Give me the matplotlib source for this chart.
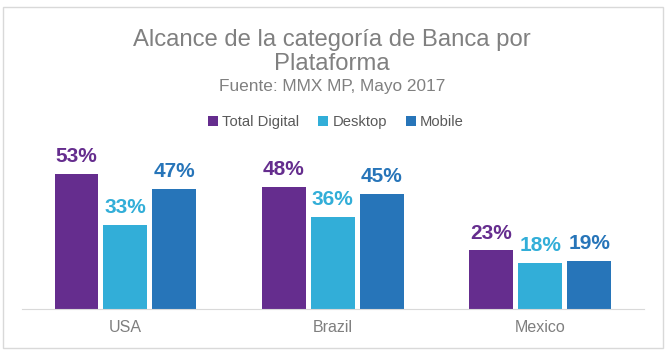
"""Alcance de la categoría de Banca por Plataforma (bar chart)."""

import matplotlib

matplotlib.use("Agg")
import matplotlib.pyplot as plt  # noqa: E402
import numpy as np  # noqa: E402
from matplotlib.patches import Rectangle  # noqa: E402

plt.rcParams["font.family"] = ["Liberation Sans", "DejaVu Sans"]

countries = ["USA", "Brazil", "Mexico"]
series = ["Total Digital", "Desktop", "Mobile"]
total_digital = [53, 48, 23]
desktop = [33, 36, 18]
mobile = [47, 45, 19]
colors = ["#652D8E", "#32AED8", "#2775B9"]

W, H = 668, 354
fig = plt.figure(figsize=(W / 100, H / 100), dpi=100)

# thin gray frame round the chart
fig.patches.append(Rectangle((3 / W, 6 / H), 660 / W, 341 / H, transform=fig.transFigure,
                             fill=False, ec="#D9D9D9", lw=1.0))

# axes placed in pixel terms: baseline at y=309, 60% reaches y=156
left, right = 21.75, 644
base, top = 309, 156
ax = fig.add_axes([left / W, (H - base) / H, (right - left) / W, (base - top) / H])

x = np.arange(len(countries))
bw = 0.212
step = 0.236
for i, (vals, col) in enumerate(zip([total_digital, desktop, mobile], colors)):
    pos = x + (i - 1) * step
    bars = ax.bar(pos, vals, width=bw, color=col, label=series[i], zorder=2)
    for b, v in zip(bars, vals):
        ax.annotate(f"{v}%", (b.get_x() + b.get_width() / 2, v), xytext=(0, 8.5),
                    textcoords="offset points", ha="center", va="baseline",
                    fontsize=15, fontweight="bold", color=col, annotation_clip=False)

ax.set_xlim(-0.5, 2.5)
ax.set_ylim(0, 60)
ax.set_xticks(x)
ax.set_xticklabels(countries, fontsize=11.5, color="#7F7F7F")
ax.tick_params(axis="x", length=0, pad=8)
ax.set_yticks([])
for s in ["top", "left", "right"]:
    ax.spines[s].set_visible(False)
ax.spines["bottom"].set_color("#D9D9D9")
ax.patch.set_visible(False)

cx = 332 / W
fig.text(cx, 1 - 45.7 / H, "Alcance de la categoría de Banca por", ha="center",
         va="baseline", fontsize=17.2, color="#808080")
fig.text(cx, 1 - 70 / H, "Plataforma", ha="center", va="baseline",
         fontsize=17.2, color="#808080")
fig.text(cx, 1 - 91 / H, "Fuente: MMX MP, Mayo 2017", ha="center", va="baseline",
         fontsize=12.4, color="#808080")

fig.legend(loc="center", bbox_to_anchor=(336 / W, 1 - 122 / H), ncol=3, frameon=False,
           fontsize=10.6, handlelength=0.65, handleheight=0.65, handletextpad=0.3,
           columnspacing=1.3, labelcolor="#595959")

fig.savefig("out.png", dpi=100)
